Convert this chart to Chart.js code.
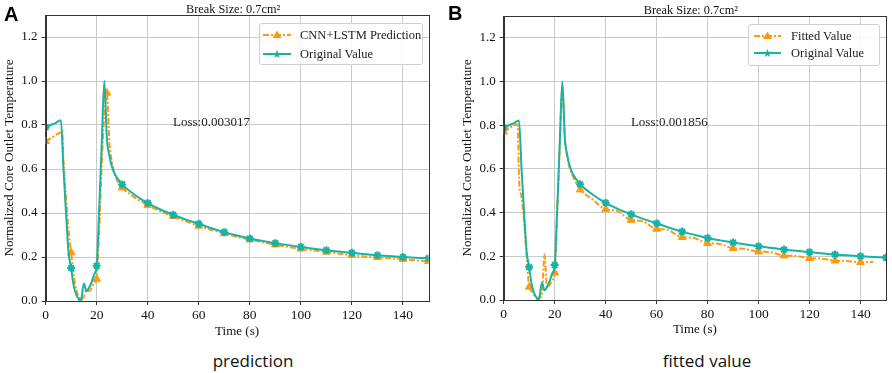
<!DOCTYPE html>
<html lang="en">
<head>
    <meta charset="UTF-8">
    <title>Break Size 0.7cm2 - prediction / fitted value</title>
    <script src="https://cdn.jsdelivr.net/npm/chart.js"></script>
    <style>
        body { margin: 0; background: #fff; }
        #wrap { position: relative; width: 892px; height: 373px; overflow: hidden; }
        canvas { position: absolute; top: 0; }
        .tag { position: absolute; font: bold 20px 'Liberation Sans', Arial, sans-serif; color: #000; }
        .caption { position: absolute; font: 17px 'Open Sans', sans-serif; color: #111; transform: translateX(-50%); white-space: nowrap; }
        .legend {
            position: absolute; background: rgba(255,255,255,0.85);
            border: 1px solid #cfcfcf; border-radius: 3px;
            font: 12.5px 'Liberation Serif', 'Times New Roman', serif; color: #222;
        }
        .legend .row { position: absolute; height: 14px; line-height: 14px; white-space: nowrap; }
        .legend svg { position: absolute; top: 0; }
        .legend span { position: absolute; top: 0; }
    </style>
</head>
<body>
<div id="wrap">
    <canvas id="chartA" width="440" height="345" style="left:0"></canvas>
    <canvas id="chartB" width="447" height="345" style="left:445px"></canvas>

    <div class="tag" style="left:4px;top:3px">A</div>
    <div class="tag" style="left:448px;top:2px">B</div>

    <div class="legend" style="left:259px;top:23px;width:162px;height:40px">
        <div class="row" style="left:0;top:4px">
            <svg width="30" height="14" style="left:3px"><line x1="0" y1="7" x2="28" y2="7" stroke="#ff9a0e" stroke-width="2" stroke-dasharray="6,2,2,2"/><polygon points="14,2.5 18.5,10 9.5,10" fill="#ff9a0e"/></svg>
            <span style="left:40px">CNN+LSTM Prediction</span>
        </div>
        <div class="row" style="left:0;top:23px">
            <svg width="30" height="14" style="left:3px"><line x1="0" y1="7" x2="28" y2="7" stroke="#17b3a6" stroke-width="2"/><polygon points="14,3 15.2,6 18,6 15.8,8 16.6,11 14,9.2 11.4,11 12.2,8 10,6 12.8,6" fill="#17b3a6"/></svg>
            <span style="left:40px">Original Value</span>
        </div>
    </div>

    <div class="legend" style="left:748px;top:24px;width:130px;height:40px">
        <div class="row" style="left:0;top:4px">
            <svg width="30" height="14" style="left:5px"><line x1="0" y1="7" x2="27" y2="7" stroke="#ff9a0e" stroke-width="2" stroke-dasharray="6,2,2,2"/><polygon points="13.5,2.5 18,10 9,10" fill="#ff9a0e"/></svg>
            <span style="left:42px">Fitted Value</span>
        </div>
        <div class="row" style="left:0;top:21px">
            <svg width="30" height="14" style="left:5px"><line x1="0" y1="7" x2="27" y2="7" stroke="#17b3a6" stroke-width="2"/><polygon points="13.5,3 14.7,6 17.5,6 15.3,8 16.1,11 13.5,9.2 10.9,11 11.7,8 9.5,6 12.3,6" fill="#17b3a6"/></svg>
            <span style="left:42px">Original Value</span>
        </div>
    </div>

    <div class="caption" style="left:253px;top:349px">prediction</div>
    <div class="caption" style="left:707px;top:349px">fitted value</div>
</div>
<script>
    // Original simulated value (same in both panels)
    const timeOriginal = [0, 2, 4, 6, 7, 8, 9, 10, 11, 12, 13, 13.5, 14, 15, 16, 17, 18, 19, 20, 21, 22, 23, 24, 25, 26, 27, 28, 29, 30,
        35, 40, 45, 50, 55, 60, 65, 70, 75, 80, 85, 90, 95, 100, 110, 120, 130, 140, 150];
    const originalValue = [0.79, 0.80, 0.81, 0.822, 0.60, 0.40, 0.22, 0.15, 0.07, 0.03, 0.008, 0.0, 0.01, 0.08, 0.045, 0.06, 0.085, 0.12, 0.16, 0.42, 0.72, 1.0, 0.74, 0.66, 0.61, 0.58, 0.56, 0.545, 0.53,
        0.482, 0.445, 0.416, 0.392, 0.370, 0.351, 0.331, 0.313, 0.298, 0.284, 0.273, 0.263, 0.254, 0.246, 0.231, 0.219, 0.208, 0.200, 0.194];

    // CNN+LSTM prediction (panel A)
    const timePred = [0, 2, 4, 6, 6.5, 7, 8, 9, 10, 11, 12, 13, 14, 15, 16, 17, 18, 19, 20, 21, 22, 23, 24, 25, 26, 27, 28, 29, 30,
        35, 40, 45, 50, 55, 60, 65, 70, 75, 80, 85, 90, 95, 100, 110, 120, 130, 140, 150];
    const predValue = [0.726, 0.74, 0.755, 0.768, 0.775, 0.64, 0.47, 0.32, 0.22, 0.12, 0.05, 0.02, 0.005, 0.02, 0.05, 0.045, 0.06, 0.08, 0.10, 0.32, 0.62, 0.85, 0.946, 0.72, 0.63, 0.58, 0.55, 0.53, 0.515,
        0.47, 0.436, 0.408, 0.385, 0.362, 0.341, 0.323, 0.307, 0.292, 0.279, 0.267, 0.256, 0.246, 0.237, 0.223, 0.208, 0.198, 0.19, 0.18];

    // Fitted value (panel B)
    const timeFit = [0, 2, 4, 5, 5.5, 6, 7, 8, 9, 10, 11, 12, 13, 14, 15, 16, 17, 18, 19, 20, 21, 22, 23, 24, 25, 26, 27, 28, 29, 30,
        35, 40, 44, 50, 54, 60, 64, 70, 74, 80, 84, 90, 94, 100, 104, 110, 114, 120, 124, 130, 134, 140, 145];
    const fitValue = [0.77, 0.785, 0.80, 0.805, 0.80, 0.56, 0.47, 0.36, 0.20, 0.06, 0.04, 0.02, 0.01, 0.01, 0.02, 0.21, 0.055, 0.07, 0.09, 0.125, 0.40, 0.70, 0.97, 0.74, 0.65, 0.60, 0.57, 0.545, 0.525, 0.505,
        0.46, 0.415, 0.41, 0.366, 0.362, 0.325, 0.322, 0.287, 0.285, 0.26, 0.258, 0.237, 0.235, 0.221, 0.22, 0.203, 0.202, 0.191, 0.19, 0.18, 0.179, 0.173, 0.175];

    const predMarkers = [0, 10, 20, 24, 30, 40, 50, 60, 70, 80, 90, 100, 110, 120, 130, 140, 150];
    const tenMarkers = [0, 10, 20, 30, 40, 50, 60, 70, 80, 90, 100, 110, 120, 130, 140, 150];

    const xTicks = [0, 20, 40, 60, 80, 100, 120, 140];
    const yTicks = [0.0, 0.2, 0.4, 0.6, 0.8, 1.0, 1.2];

    const titleText = 'Break Size: 0.7cm\u00B2';
    const orange = '#ff9a0e';
    const teal = '#17b3a6';
    const serif = "'Liberation Serif', 'Times New Roman', serif";

    function toPoints(xs, ys) {
        return xs.map((x, i) => ({ x: x, y: ys[i] }));
    }

    const framePlugin = {
        id: 'frame',
        afterDatasetsDraw(chart, args, opts) {
            const a = chart.chartArea;
            const ctx = chart.ctx;
            ctx.save();
            ctx.strokeStyle = '#333';
            ctx.lineWidth = 1;
            ctx.strokeRect(Math.round(a.left) + 0.5, Math.round(a.top) + 0.5, Math.round(a.right - a.left), Math.round(a.bottom - a.top));
            // title above the plot
            ctx.fillStyle = '#111';
            ctx.font = '12.3px ' + serif;
            ctx.textAlign = 'center';
            ctx.textBaseline = 'alphabetic';
            ctx.fillText(titleText, (a.left + a.right) / 2 - 4, a.top - 2);
            // loss annotation in data coordinates
            const xs = chart.scales.x, ys = chart.scales.y;
            ctx.font = '13px ' + serif;
            ctx.textBaseline = 'middle';
            ctx.fillStyle = '#222';
            ctx.fillText(opts.loss, xs.getPixelForValue(65), ys.getPixelForValue(0.812));
            ctx.restore();
        }
    };

    function makeChart(id, cfg) {
        const ctx = document.getElementById(id).getContext('2d');
        return new Chart(ctx, {
            type: 'line',
            data: {
                datasets: [
                    {
                        label: 'Original Value',
                        data: toPoints(timeOriginal, originalValue),
                        borderColor: teal,
                        backgroundColor: teal,
                        borderWidth: 2,
                        cubicInterpolationMode: 'monotone',
                        pointStyle: 'star',
                        pointBorderWidth: 2,
                        pointRadius: c => (c.raw && tenMarkers.includes(c.raw.x)) ? 4 : 0
                    },
                    {
                        label: cfg.label,
                        data: toPoints(cfg.xs, cfg.ys),
                        borderColor: orange,
                        backgroundColor: orange,
                        borderWidth: 2,
                        borderDash: [6, 2, 2, 2],
                        cubicInterpolationMode: 'monotone',
                        pointStyle: 'triangle',
                        pointBorderWidth: 1,
                        pointRadius: c => (c.raw && cfg.markers.includes(c.raw.x)) ? 4.5 : 0
                    }
                ]
            },
            options: {
                responsive: false,
                animation: false,
                events: [],
                layout: { padding: { left: 0, right: cfg.padRight, top: cfg.padTop, bottom: 0 } },
                scales: {
                    x: {
                        type: 'linear',
                        min: 0,
                        max: 150,
                        afterFit: s => { s.height = cfg.xAxisHeight; },
                        afterBuildTicks: s => { s.ticks = xTicks.map(v => ({ value: v })); },
                        grid: { color: '#c9c9c9', lineWidth: 1, tickLength: 4, tickColor: '#333' },
                        border: { color: '#333' },
                        ticks: { color: '#111', padding: 2, maxRotation: 0, font: { family: serif, size: 13.5 } },
                        title: { display: true, text: 'Time (s)', color: '#111', padding: { top: 0, bottom: cfg.xTitlePad }, font: { family: serif, size: 13 } }
                    },
                    y: {
                        min: 0,
                        max: 1.3,
                        afterFit: s => { s.width = cfg.yAxisWidth; },
                        afterBuildTicks: s => { s.ticks = yTicks.map(v => ({ value: v })); },
                        grid: { color: '#c9c9c9', lineWidth: 1, tickLength: 4, tickColor: '#333' },
                        border: { color: '#333' },
                        ticks: { color: '#111', padding: cfg.yTickPad, font: { family: serif, size: 13 }, callback: v => v.toFixed(1) },
                        title: { display: true, text: 'Normalized Core Outlet Temperature', color: '#111', padding: { top: cfg.yTitlePad, bottom: 0 }, font: { family: serif, size: 13.2 } }
                    }
                },
                plugins: {
                    legend: { display: false },
                    tooltip: { enabled: false },
                    frame: { loss: cfg.loss }
                }
            },
            plugins: [framePlugin]
        });
    }

    makeChart('chartA', {
        label: 'CNN+LSTM Prediction', xs: timePred, ys: predValue, markers: predMarkers, loss: 'Loss:0.003017',
        yAxisWidth: 45.6, padRight: 11.5, padTop: 15, xAxisHeight: 44, xTitlePad: 6, yTitlePad: 1.5, yTickPad: 4
    });
    makeChart('chartB', {
        label: 'Fitted Value', xs: timeFit, ys: fitValue, markers: tenMarkers, loss: 'Loss:0.001856',
        yAxisWidth: 58.7, padRight: 6, padTop: 16, xAxisHeight: 45, xTitlePad: 8, yTitlePad: 14.5, yTickPad: 4
    });
</script>
</body>
</html>
